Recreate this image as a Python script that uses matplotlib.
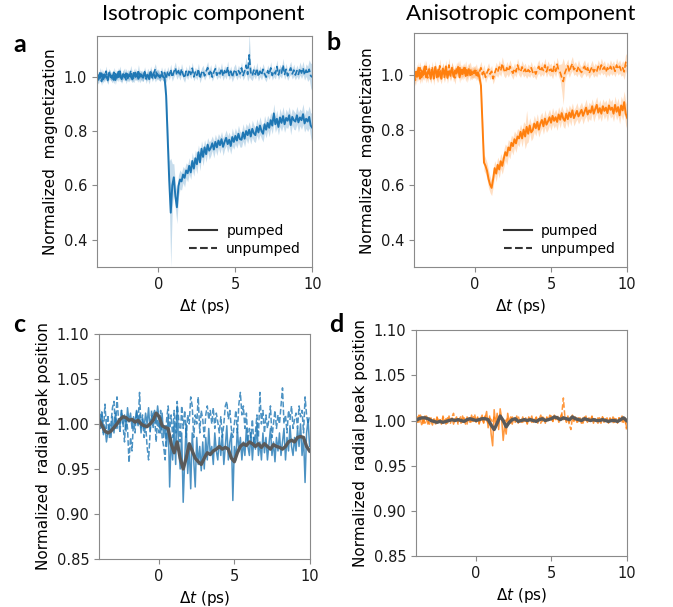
import numpy as np
import matplotlib
matplotlib.use("Agg")
import matplotlib.pyplot as plt
from matplotlib.lines import Line2D

# delay grid (ps) for the raw traces, and a coarser one for the smoothed traces
t = np.linspace(-4, 10, 141)
t_smooth = np.linspace(-4, 10, 71)

# ---- panel a : isotropic magnetization ----
a_pumped = [
    0.985, 1.005, 0.995, 1.012, 0.990, 1.008, 1.000, 0.992, 1.015, 0.998,
    1.004, 0.988, 1.010, 0.996, 1.018, 1.000, 0.993, 1.009, 0.997, 1.012,
    0.994, 1.006, 1.001, 0.990, 1.014, 0.999, 1.007, 0.992, 1.010, 1.002,
    0.996, 1.013, 0.998, 1.005, 0.991, 1.016, 1.002, 1.008, 0.995, 1.011,
    1.003, 0.998, 1.006, 1.000, 0.995, 0.930, 0.780, 0.620, 0.500, 0.600,
    0.630, 0.560, 0.520, 0.598, 0.622, 0.615, 0.640, 0.628, 0.655, 0.645,
    0.672, 0.648, 0.690, 0.662, 0.700, 0.678, 0.722, 0.685, 0.735, 0.705,
    0.740, 0.715, 0.750, 0.728, 0.738, 0.755, 0.732, 0.760, 0.740, 0.765,
    0.748, 0.770, 0.742, 0.760, 0.775, 0.752, 0.768, 0.745, 0.778, 0.760,
    0.782, 0.765, 0.790, 0.770, 0.768, 0.795, 0.772, 0.800, 0.785, 0.805,
    0.780, 0.808, 0.792, 0.785, 0.815, 0.795, 0.820, 0.800, 0.790, 0.825,
    0.805, 0.830, 0.812, 0.840, 0.820, 0.865, 0.825, 0.845, 0.815, 0.850,
    0.830, 0.855, 0.825, 0.848, 0.838, 0.858, 0.822, 0.852, 0.840, 0.835,
    0.858, 0.832, 0.850, 0.840, 0.862, 0.828, 0.845, 0.835, 0.852, 0.820,
    0.812]
a_pumped_err = [
    0.020, 0.015, 0.012, 0.018, 0.014, 0.016, 0.013, 0.017, 0.015, 0.012,
    0.016, 0.014, 0.018, 0.012, 0.015, 0.017, 0.013, 0.016, 0.014, 0.018,
    0.013, 0.016, 0.015, 0.012, 0.017, 0.014, 0.016, 0.013, 0.015, 0.017,
    0.014, 0.016, 0.013, 0.015, 0.018, 0.014, 0.016, 0.012, 0.015, 0.017,
    0.015, 0.014, 0.016, 0.015, 0.020, 0.035, 0.050, 0.070, 0.200, 0.080,
    0.050, 0.045, 0.060, 0.040, 0.035, 0.032, 0.030, 0.034, 0.028, 0.032,
    0.030, 0.026, 0.032, 0.028, 0.030, 0.035, 0.027, 0.031, 0.029, 0.033,
    0.028, 0.030, 0.026, 0.032, 0.029, 0.027, 0.031, 0.028, 0.030, 0.026,
    0.030, 0.028, 0.032, 0.027, 0.029, 0.031, 0.028, 0.030, 0.033, 0.027,
    0.030, 0.028, 0.031, 0.029, 0.027, 0.032, 0.030, 0.028, 0.031, 0.029,
    0.028, 0.032, 0.030, 0.027, 0.031, 0.029, 0.033, 0.028, 0.030, 0.032,
    0.030, 0.028, 0.033, 0.029, 0.031, 0.035, 0.030, 0.032, 0.029, 0.034,
    0.031, 0.035, 0.030, 0.033, 0.029, 0.032, 0.036, 0.030, 0.034, 0.031,
    0.033, 0.036, 0.031, 0.034, 0.038, 0.032, 0.035, 0.037, 0.040, 0.045,
    0.060]
a_unpumped = [
    1.000, 0.988, 1.014, 0.982, 1.008, 0.996, 1.020, 0.986, 1.010, 1.002,
    0.992, 1.016, 0.987, 1.008, 0.998, 1.020, 0.990, 1.006, 1.014, 0.988,
    1.010, 0.995, 1.022, 1.000, 0.992, 1.015, 0.998, 1.024, 0.993, 1.008,
    0.998, 1.018, 0.991, 1.012, 1.002, 1.022, 0.995, 1.014, 1.028, 1.003,
    1.012, 0.996, 1.018, 1.000, 1.015, 0.992, 1.020, 1.004, 1.026, 0.998,
    1.017, 1.032, 1.006, 1.022, 1.002, 1.028, 1.008, 0.995, 1.020, 1.004,
    1.025, 1.008, 1.031, 0.999, 1.017, 1.005, 1.028, 0.993, 1.014, 1.022,
    1.003, 1.020, 1.033, 1.008, 1.024, 0.998, 1.017, 1.029, 1.005, 1.020,
    1.010, 1.030, 1.002, 1.022, 1.008, 1.035, 1.004, 1.020, 0.998, 1.017,
    1.026, 1.005, 1.022, 1.010, 1.032, 1.004, 1.020, 1.042, 1.008, 1.080,
    1.016, 1.003, 1.024, 1.008, 1.030, 1.000, 1.020, 1.006, 1.027, 1.010,
    0.998, 1.022, 1.008, 1.032, 1.004, 1.020, 1.010, 1.037, 1.006, 1.024,
    1.013, 1.042, 1.008, 1.027, 1.003, 1.020, 1.032, 1.010, 1.024, 1.006,
    1.022, 1.008, 1.030, 1.013, 1.032, 1.006, 1.024, 1.010, 1.027, 1.003,
    0.998]
a_unpumped_err = [
    0.018, 0.015, 0.020, 0.014, 0.017, 0.016, 0.019, 0.015, 0.018, 0.016,
    0.015, 0.018, 0.016, 0.014, 0.017, 0.019, 0.015, 0.016, 0.018, 0.014,
    0.017, 0.015, 0.019, 0.016, 0.014, 0.018, 0.015, 0.020, 0.016, 0.017,
    0.015, 0.018, 0.016, 0.019, 0.015, 0.017, 0.014, 0.018, 0.020, 0.016,
    0.017, 0.015, 0.018, 0.016, 0.019, 0.015, 0.017, 0.016, 0.020, 0.015,
    0.018, 0.022, 0.016, 0.019, 0.015, 0.020, 0.017, 0.016, 0.019, 0.015,
    0.020, 0.016, 0.022, 0.015, 0.018, 0.017, 0.021, 0.016, 0.018, 0.020,
    0.016, 0.019, 0.022, 0.017, 0.020, 0.015, 0.018, 0.021, 0.016, 0.019,
    0.017, 0.021, 0.016, 0.019, 0.017, 0.022, 0.016, 0.019, 0.017, 0.020,
    0.021, 0.017, 0.020, 0.018, 0.022, 0.017, 0.020, 0.030, 0.025, 0.080,
    0.025, 0.018, 0.021, 0.017, 0.022, 0.016, 0.020, 0.018, 0.021, 0.019,
    0.017, 0.021, 0.018, 0.023, 0.017, 0.020, 0.019, 0.024, 0.018, 0.021,
    0.019, 0.025, 0.018, 0.022, 0.017, 0.020, 0.024, 0.019, 0.022, 0.018,
    0.021, 0.019, 0.024, 0.020, 0.025, 0.019, 0.023, 0.028, 0.035, 0.045,
    0.055]

# ---- panel b : anisotropic magnetization ----
b_pumped = [
    0.975, 1.010, 0.992, 1.025, 0.985, 1.015, 0.998, 1.030, 0.990, 1.008,
    1.020, 0.985, 1.012, 0.995, 1.028, 0.990, 1.018, 1.002, 0.985, 1.022,
    0.998, 1.030, 0.988, 1.012, 1.000, 1.025, 0.992, 1.015, 1.005, 1.028,
    0.990, 1.018, 1.002, 1.025, 0.995, 1.012, 1.020, 0.998, 1.010, 1.005,
    1.015, 0.998, 1.008, 0.990, 0.960, 0.820, 0.680, 0.668, 0.650, 0.620,
    0.600, 0.588, 0.620, 0.660, 0.640, 0.672, 0.655, 0.685, 0.668, 0.695,
    0.718, 0.705, 0.735, 0.725, 0.752, 0.740, 0.765, 0.750, 0.775, 0.768,
    0.792, 0.768, 0.800, 0.775, 0.810, 0.785, 0.815, 0.790, 0.798, 0.822,
    0.805, 0.828, 0.800, 0.822, 0.835, 0.812, 0.840, 0.818, 0.830, 0.845,
    0.825, 0.850, 0.832, 0.845, 0.828, 0.855, 0.836, 0.860, 0.840, 0.832,
    0.858, 0.838, 0.862, 0.845, 0.870, 0.842, 0.855, 0.868, 0.848, 0.860,
    0.872, 0.850, 0.865, 0.880, 0.855, 0.870, 0.862, 0.885, 0.858, 0.875,
    0.890, 0.862, 0.878, 0.858, 0.885, 0.868, 0.880, 0.860, 0.888, 0.872,
    0.880, 0.858, 0.890, 0.865, 0.882, 0.852, 0.888, 0.870, 0.900, 0.858,
    0.842]
b_pumped_err = [
    0.025, 0.020, 0.018, 0.022, 0.019, 0.021, 0.018, 0.023, 0.020, 0.019,
    0.021, 0.018, 0.022, 0.019, 0.023, 0.020, 0.018, 0.021, 0.019, 0.022,
    0.019, 0.023, 0.020, 0.018, 0.021, 0.022, 0.019, 0.020, 0.018, 0.022,
    0.020, 0.019, 0.022, 0.018, 0.021, 0.020, 0.023, 0.019, 0.020, 0.018,
    0.019, 0.020, 0.018, 0.021, 0.025, 0.030, 0.030, 0.028, 0.030, 0.032,
    0.030, 0.028, 0.030, 0.027, 0.030, 0.028, 0.031, 0.028, 0.030, 0.032,
    0.030, 0.033, 0.029, 0.031, 0.028, 0.032, 0.030, 0.033, 0.029, 0.030,
    0.028, 0.031, 0.029, 0.045, 0.060, 0.030, 0.028, 0.031, 0.029, 0.030,
    0.028, 0.030, 0.027, 0.031, 0.028, 0.029, 0.032, 0.028, 0.030, 0.029,
    0.028, 0.030, 0.027, 0.029, 0.031, 0.028, 0.030, 0.027, 0.029, 0.028,
    0.027, 0.030, 0.028, 0.031, 0.027, 0.029, 0.028, 0.030, 0.027, 0.029,
    0.028, 0.030, 0.027, 0.031, 0.028, 0.030, 0.029, 0.027, 0.030, 0.028,
    0.030, 0.028, 0.031, 0.029, 0.027, 0.030, 0.028, 0.031, 0.029, 0.030,
    0.031, 0.029, 0.032, 0.030, 0.033, 0.031, 0.034, 0.036, 0.040, 0.042,
    0.045]
b_unpumped = [
    1.000, 0.980, 1.015, 0.995, 1.025, 0.990, 1.010, 1.002, 1.030, 0.988,
    1.012, 0.995, 1.028, 0.985, 1.018, 1.005, 0.992, 1.032, 1.000, 1.020,
    0.990, 1.015, 1.002, 1.035, 0.995, 1.022, 1.008, 0.988, 1.025, 1.010,
    1.030, 0.998, 1.018, 1.005, 1.028, 0.992, 1.015, 1.022, 1.000, 1.012,
    1.005, 1.018, 0.995, 1.010, 1.025, 1.000, 1.015, 0.990, 1.008, 1.020,
    1.002, 1.012, 0.985, 1.005, 1.022, 1.010, 1.028, 1.015, 1.040, 1.018,
    1.008, 1.025, 1.012, 1.030, 1.015, 1.005, 1.022, 1.010, 1.035, 1.018,
    1.010, 1.028, 1.012, 1.020, 1.005, 1.018, 1.010, 1.025, 1.008, 1.015,
    1.002, 1.020, 1.030, 1.012, 1.025, 1.015, 1.035, 1.010, 1.028, 1.015,
    1.020, 1.005, 1.030, 1.012, 1.038, 1.015, 1.008, 0.990, 0.975, 1.005,
    1.020, 1.032, 1.010, 1.028, 1.040, 1.018, 1.025, 1.012, 1.030, 1.015,
    1.008, 1.022, 1.030, 1.012, 1.025, 1.005, 1.018, 1.028, 1.010, 1.020,
    1.012, 1.030, 1.018, 1.035, 1.020, 1.028, 1.010, 1.025, 1.015, 1.030,
    1.018, 1.028, 1.012, 1.035, 1.020, 1.030, 1.015, 1.025, 1.010, 1.045,
    1.030]
b_unpumped_err = [
    0.022, 0.020, 0.024, 0.019, 0.023, 0.021, 0.020, 0.024, 0.022, 0.019,
    0.021, 0.023, 0.020, 0.024, 0.019, 0.022, 0.021, 0.025, 0.020, 0.022,
    0.019, 0.023, 0.021, 0.025, 0.020, 0.022, 0.019, 0.023, 0.021, 0.020,
    0.024, 0.019, 0.022, 0.020, 0.023, 0.021, 0.020, 0.024, 0.019, 0.021,
    0.020, 0.022, 0.019, 0.021, 0.023, 0.020, 0.022, 0.019, 0.021, 0.023,
    0.020, 0.022, 0.019, 0.021, 0.023, 0.020, 0.024, 0.021, 0.025, 0.022,
    0.020, 0.023, 0.021, 0.024, 0.020, 0.022, 0.021, 0.019, 0.024, 0.021,
    0.020, 0.023, 0.021, 0.022, 0.019, 0.021, 0.020, 0.023, 0.019, 0.021,
    0.020, 0.022, 0.024, 0.020, 0.023, 0.021, 0.025, 0.020, 0.022, 0.021,
    0.022, 0.020, 0.024, 0.021, 0.025, 0.022, 0.030, 0.050, 0.085, 0.030,
    0.022, 0.025, 0.020, 0.023, 0.026, 0.021, 0.023, 0.020, 0.024, 0.021,
    0.020, 0.022, 0.024, 0.020, 0.023, 0.019, 0.021, 0.024, 0.020, 0.022,
    0.021, 0.024, 0.020, 0.025, 0.021, 0.023, 0.020, 0.022, 0.021, 0.024,
    0.021, 0.023, 0.020, 0.025, 0.022, 0.024, 0.021, 0.026, 0.028, 0.032,
    0.035]

# ---- panel c : isotropic radial peak position ----
c_pumped = [
    1.005, 0.995, 1.010, 0.988, 0.998, 0.980, 0.992, 1.000, 0.985, 1.008,
    0.990, 1.012, 0.995, 1.005, 0.998, 1.015, 1.000, 1.010, 0.992, 1.018,
    1.002, 1.012, 0.995, 1.008, 1.000, 1.015, 0.998, 1.010, 0.990, 1.005,
    0.995, 1.012, 1.000, 1.018, 0.992, 1.008, 1.010, 1.015, 1.000, 1.020,
    1.005, 0.990, 1.012, 0.985, 0.998, 0.975, 1.010, 0.930, 0.985, 0.960,
    1.000, 0.955, 1.020, 0.975, 0.950, 0.990, 0.913, 0.960, 1.000, 0.945,
    0.975, 0.928, 0.990, 0.960, 0.930, 0.985, 0.955, 0.975, 0.948, 0.980,
    0.950, 0.985, 0.960, 0.995, 0.965, 0.975, 0.955, 0.990, 0.970, 0.960,
    0.985, 0.965, 0.990, 0.955, 0.975, 0.998, 0.960, 0.980, 0.990, 0.915,
    0.975, 0.960, 0.995, 0.970, 0.985, 0.960, 0.980, 0.965, 0.995, 0.975,
    0.965, 0.990, 0.960, 0.985, 0.972, 1.000, 0.965, 0.980, 0.960, 0.990,
    0.968, 0.985, 0.960, 0.978, 0.995, 0.965, 0.980, 0.958, 0.985, 0.970,
    0.990, 0.965, 0.980, 0.995, 0.960, 0.985, 0.970, 0.998, 0.975, 0.965,
    0.985, 0.970, 0.995, 0.975, 1.000, 0.965, 0.985, 0.935, 0.990, 1.005,
    0.975]
c_unpumped = [
    1.020, 1.005, 1.015, 0.990, 1.022, 0.995, 1.010, 0.985, 1.000, 1.018,
    1.025, 0.995, 1.030, 1.005, 0.990, 1.015, 1.000, 0.980, 1.010, 0.995,
    0.957, 0.985, 0.970, 1.005, 0.990, 1.015, 1.000, 1.035, 0.995, 1.010,
    0.985, 1.000, 0.975, 0.960, 0.990, 1.015, 0.995, 1.010, 0.980, 1.005,
    0.990, 1.015, 0.985, 0.975, 0.960, 1.005, 1.020, 0.995, 1.010, 0.985,
    1.015, 0.990, 1.025, 1.005, 0.980, 1.020, 0.995, 1.015, 0.985, 1.010,
    1.000, 1.030, 1.020, 0.985, 1.010, 1.000, 1.030, 0.990, 1.015, 1.005,
    0.985, 1.010, 1.020, 1.005, 1.015, 1.000, 1.018, 0.995, 1.012, 1.002,
    0.990, 1.008, 0.985, 1.000, 1.020, 1.025, 1.005, 1.015, 0.995, 0.985,
    1.000, 1.015, 0.990, 1.022, 1.035, 1.010, 1.020, 0.995, 1.012, 0.980,
    0.995, 0.985, 1.005, 0.975, 0.990, 1.010, 0.985, 1.035, 1.000, 1.015,
    0.990, 1.010, 0.995, 1.005, 1.020, 0.985, 1.000, 1.015, 0.995, 1.010,
    1.000, 1.020, 1.040, 1.000, 1.010, 0.990, 1.015, 1.005, 1.020, 0.995,
    1.005, 1.012, 0.995, 1.020, 1.008, 1.015, 0.990, 1.030, 1.010, 1.000,
    1.010]
c_smooth = [
    1.005, 0.998, 0.992, 0.990, 0.992, 0.996, 1.000, 1.005, 1.008, 1.007,
    1.004, 1.005, 1.002, 1.004, 1.000, 0.998, 0.997, 1.000, 1.004, 1.012,
    1.008, 0.998, 0.996, 0.995, 0.978, 0.968, 0.980, 0.962, 0.950, 0.962,
    0.978, 0.970, 0.962, 0.958, 0.955, 0.962, 0.968, 0.966, 0.970, 0.972,
    0.975, 0.972, 0.974, 0.972, 0.962, 0.958, 0.968, 0.975, 0.978, 0.976,
    0.980, 0.978, 0.975, 0.978, 0.974, 0.978, 0.975, 0.972, 0.977, 0.975,
    0.974, 0.972, 0.975, 0.980, 0.982, 0.980, 0.985, 0.986, 0.985, 0.975,
    0.970]

# ---- panel d : anisotropic radial peak position ----
d_pumped = [
    1.000, 1.004, 0.998, 1.006, 1.002, 0.997, 1.005, 1.001, 0.996, 1.003,
    0.999, 0.995, 1.002, 0.997, 1.004, 0.998, 1.001, 0.996, 1.003, 0.999,
    1.002, 0.997, 1.005, 0.999, 1.003, 0.996, 1.001, 1.004, 0.998, 1.002,
    0.997, 1.005, 1.000, 0.996, 1.004, 1.001, 0.998, 1.006, 0.999, 1.003,
    0.998, 1.004, 0.996, 1.002, 1.006, 0.997, 1.003, 1.010, 0.992, 1.005,
    0.985, 0.972, 1.012, 0.995, 1.008, 0.990, 1.013, 1.002, 0.978, 0.995,
    0.985, 1.008, 0.998, 1.004, 0.996, 1.002, 0.999, 1.005, 0.997, 1.001,
    0.998, 1.004, 0.999, 1.003, 0.996, 1.002, 1.000, 1.005, 0.998, 1.001,
    1.003, 0.997, 1.002, 1.006, 0.999, 1.003, 0.997, 1.004, 1.000, 1.002,
    1.005, 0.999, 1.006, 1.002, 1.004, 0.998, 1.003, 1.007, 1.001, 1.004,
    1.000, 1.005, 0.998, 1.003, 1.006, 1.000, 1.004, 0.998, 1.003, 1.001,
    0.997, 1.003, 1.000, 1.005, 0.998, 1.002, 0.999, 1.004, 0.997, 1.002,
    1.000, 0.997, 1.003, 0.999, 1.004, 0.998, 1.002, 1.000, 0.997, 1.003,
    0.999, 1.004, 0.998, 1.002, 0.997, 1.003, 1.000, 1.005, 0.998, 1.003,
    0.992]
d_unpumped = [
    1.002, 0.998, 1.006, 1.001, 0.994, 1.003, 0.997, 1.005, 1.000, 0.996,
    1.003, 0.998, 1.001, 0.995, 1.004, 0.999, 1.002, 0.997, 1.005, 1.000,
    0.996, 1.003, 1.000, 0.997, 1.004, 1.008, 0.999, 1.003, 0.996, 1.002,
    1.005, 0.998, 1.003, 1.000, 0.996, 1.004, 1.001, 0.997, 1.003, 1.007,
    0.999, 1.003, 0.997, 1.004, 1.001, 0.998, 1.005, 1.000, 0.997, 1.003,
    1.001, 0.998, 1.004, 1.000, 0.997, 1.003, 1.006, 1.001, 0.998, 1.002,
    0.999, 1.003, 1.001, 0.997, 1.004, 1.000, 0.998, 1.002, 1.005, 0.999,
    1.001, 0.998, 1.003, 1.000, 0.997, 1.004, 1.001, 0.998, 1.002, 1.000,
    1.004, 0.999, 1.002, 0.997, 1.005, 1.001, 0.998, 1.003, 1.000, 1.006,
    1.002, 0.999, 1.004, 1.001, 1.006, 1.000, 1.003, 1.008, 1.025, 1.004,
    0.998, 1.002, 0.995, 0.990, 1.003, 0.999, 1.004, 1.000, 0.997, 1.003,
    1.000, 0.997, 1.004, 1.001, 0.998, 1.003, 1.000, 1.005, 0.999, 1.002,
    0.998, 1.003, 1.000, 0.997, 1.004, 1.001, 0.998, 1.003, 0.999, 1.002,
    1.000, 0.997, 1.004, 1.000, 0.998, 1.003, 1.000, 0.997, 1.004, 1.001,
    0.990]
d_smooth = [
    1.000, 1.002, 1.003, 1.003, 1.002, 1.000, 0.999, 0.998, 0.999, 0.998,
    0.999, 1.000, 1.001, 1.000, 1.001, 1.000, 0.999, 1.001, 1.002, 1.001,
    1.000, 1.001, 1.002, 1.002, 1.001, 0.995, 0.990, 0.997, 1.005, 1.000,
    0.993, 0.998, 1.001, 1.002, 0.999, 1.000, 1.001, 1.000, 1.001, 1.000,
    0.999, 1.001, 1.002, 1.000, 1.001, 1.002, 1.004, 1.003, 1.001, 1.003,
    1.002, 1.001, 1.004, 1.002, 1.001, 1.000, 1.002, 1.001, 1.000, 1.001,
    1.000, 1.000, 1.001, 1.000, 0.999, 1.000, 1.000, 0.999, 1.001, 1.003,
    1.000]

x_ticks = [0, 5, 10]
blue = '#1f77b4'
orange = '#ff7f0e'
gray = '#5a5a5a'

plt.rcParams['font.size'] = 10.5

fig = plt.figure(figsize=(6.73, 6.07), dpi=100)
ax_a = fig.add_axes([0.144, 0.560, 0.320, 0.381])
ax_b = fig.add_axes([0.615, 0.560, 0.317, 0.385])
ax_c = fig.add_axes([0.147, 0.079, 0.313, 0.371])
ax_d = fig.add_axes([0.618, 0.084, 0.313, 0.372])


def style(ax):
    ax.set_xlim(-4, 10)
    ax.set_xticks(x_ticks)
    ax.set_xlabel(r'$\Delta t$ (ps)', fontsize=11)
    for s in ax.spines.values():
        s.set_color('#8a8a8a')
    ax.tick_params(colors='#8a8a8a', labelcolor='#1a1a1a', labelsize=10.5)


def magnet_panel(ax, pumped, pumped_err, unpumped, unpumped_err, color):
    pumped = np.array(pumped)
    unpumped = np.array(unpumped)
    ax.fill_between(t, unpumped - np.array(unpumped_err), unpumped + np.array(unpumped_err),
                    color=color, alpha=0.25, lw=0)
    ax.fill_between(t, pumped - np.array(pumped_err), pumped + np.array(pumped_err),
                    color=color, alpha=0.25, lw=0)
    ax.plot(t, unpumped, color=color, ls='--', lw=1.2)
    ax.plot(t, pumped, color=color, lw=1.4)
    ax.set_ylim(0.3, 1.15)
    ax.set_yticks([0.4, 0.6, 0.8, 1.0])
    ax.set_ylabel('Normalized  magnetization', fontsize=11)
    handles = [Line2D([], [], color='#333333', lw=1.5),
               Line2D([], [], color='#333333', lw=1.5, ls='--')]
    ax.legend(handles, ['pumped', 'unpumped'], loc='lower right', frameon=False,
              fontsize=10, handlelength=2.0, labelspacing=0.3, borderaxespad=0.4,
              handletextpad=0.7)
    style(ax)


def peak_panel(ax, pumped, unpumped, smooth, color):
    ax.plot(t, unpumped, color=color, ls='--', lw=1.1, alpha=0.8)
    ax.plot(t, pumped, color=color, lw=1.1, alpha=0.8)
    ax.plot(t_smooth, smooth, color=gray, lw=2.4)
    ax.set_ylim(0.85, 1.10)
    ax.set_yticks([0.85, 0.90, 0.95, 1.00, 1.05, 1.10])
    ax.set_yticklabels(['0.85', '0.90', '0.95', '1.00', '1.05', '1.10'])
    ax.set_ylabel('Normalized  radial peak position', fontsize=11)
    style(ax)


magnet_panel(ax_a, a_pumped, a_pumped_err, a_unpumped, a_unpumped_err, blue)
magnet_panel(ax_b, b_pumped, b_pumped_err, b_unpumped, b_unpumped_err, orange)
peak_panel(ax_c, c_pumped, c_unpumped, c_smooth, blue)
peak_panel(ax_d, d_pumped, d_unpumped, d_smooth, orange)

fig.text(203 / 673, 1 - 14 / 607, 'Isotropic component', ha='center', va='center',
         fontsize=16, family=['Lato', 'DejaVu Sans'])
fig.text(521 / 673, 1 - 14 / 607, 'Anisotropic component', ha='center', va='center',
         fontsize=16, family=['Lato', 'DejaVu Sans'])
for letter, x, y in [('a', 20, 45), ('b', 334, 42), ('c', 19, 325), ('d', 336, 325)]:
    fig.text(x / 673, 1 - y / 607, letter, ha='center', va='center', fontsize=18,
             fontweight='bold', family=['Lato', 'DejaVu Sans'])

fig.savefig('out.png', dpi=100)
